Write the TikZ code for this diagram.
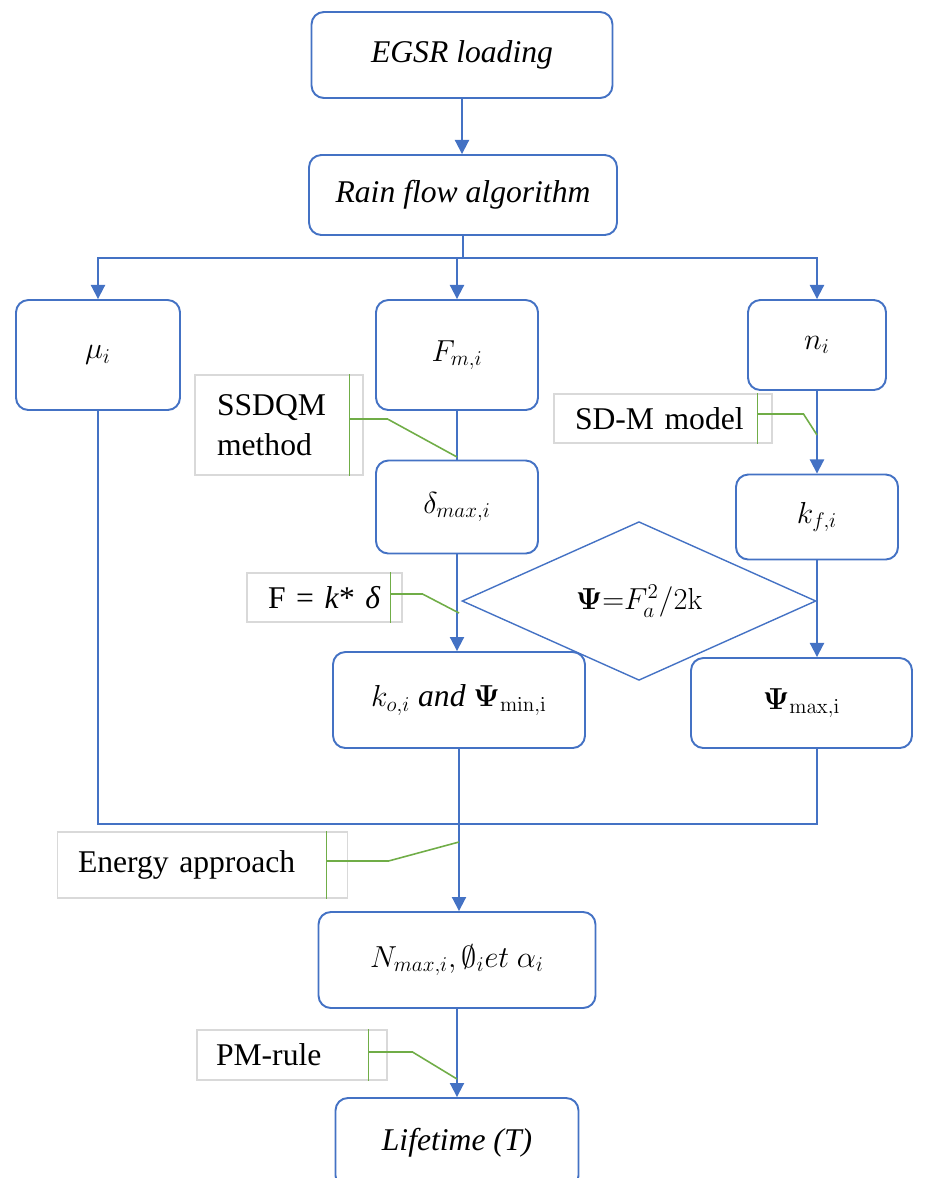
\documentclass[tikz,border=0pt]{standalone}
\usepackage[no-math]{fontspec}
\setmainfont{Liberation Serif}
\usetikzlibrary{shapes.geometric,arrows.meta}
\definecolor{flowblue}{RGB}{68,114,196}
\definecolor{notegreen}{RGB}{112,173,71}
\definecolor{notegray}{RGB}{217,217,217}

\begin{document}
\begin{tikzpicture}[x=0.02cm,y=-0.02cm,
  font=\fontsize{18}{23}\selectfont,
  box/.style={draw=flowblue,line width=1.1pt,rounded corners=7pt,align=center,font=\fontsize{18}{23}\selectfont\itshape},
  link/.style={flowblue,line width=1.1pt},
  flow/.style={link,-{Triangle[length=8pt,width=8pt]}},
  note/.style={draw=notegray,line width=0.6pt,align=left},
  callout/.style={notegreen,line width=0.9pt}]
\useasboundingbox (0,0) rectangle (933,1178);

\node[box,minimum width=6.02cm,minimum height=1.72cm](egsr) at (462,55) {EGSR loading};
\node[box,minimum width=6.16cm,minimum height=1.6cm](rain) at (463,195) {Rain flow algorithm};
\node[box,minimum width=3.28cm,minimum height=2.2cm](mu) at (98,355) {$\mu_i$};
\node[box,minimum width=3.24cm,minimum height=2.2cm](fm) at (457,355) {$F_{m,i}$};
\node[box,minimum width=2.76cm,minimum height=1.8cm](ni) at (817,345) {$n_i$};
\node[box,minimum width=3.24cm,minimum height=1.86cm](delta) at (457,507) {$\delta_{max,i}$};
\node[box,minimum width=3.24cm,minimum height=1.7cm](kf) at (817,517) {$k_{f,i}$};
\node[diamond,draw=flowblue,line width=0.8pt,inner sep=0pt,minimum width=7.08cm,minimum height=2.26cm](psi) at (639,601) {$\mathbf{\Psi}{=}F_a^2/2\mathrm{k}$};
\node[box,minimum width=5.04cm,minimum height=1.92cm](ko) at (459,700) {$k_{o,i}$ and $\mathbf{\Psi}_{\mathrm{min,i}}$};
\node[box,minimum width=4.42cm,minimum height=1.8cm](psimax) at (801.5,703) {$\mathbf{\Psi}_{\mathrm{max,i}}$};
\node[box,minimum width=5.54cm,minimum height=1.92cm](nmax) at (457,960) {$N_{max,i},\emptyset_i et\ \alpha_i$};
\node[box,minimum width=4.86cm,minimum height=1.8cm](life) at (457,1143) {Lifetime (T)};

\node[note,minimum height=2cm,inner xsep=0.44cm,text width=2.48cm](ssdqm) at (279,425) {\mbox{SSDQM}\\\mbox{method}};
\node[note,minimum height=0.98cm,inner xsep=0.42cm,text width=3.52cm](sdm) at (663,418.5) {\mbox{SD-M model}};
\node[note,minimum height=0.98cm,inner xsep=0.42cm,text width=2.26cm](hooke) at (324.5,597.5) {\mbox{F = \textit{k}* \textit{δ}}};
\node[note,minimum height=1.32cm,inner xsep=0.42cm,text width=4.98cm](energy) at (202.5,865) {\mbox{Energy approach}};
\node[note,minimum height=1cm,inner xsep=0.38cm,text width=3.04cm](pm) at (292,1055) {\mbox{PM-rule}};

\coordinate (split) at (463,258);
\coordinate (merge) at (459,824);
\coordinate (ssdqm tip) at (457,457);
\coordinate (sdm tip) at (817,435);
\coordinate (hooke tip) at (459,613);
\coordinate (energy tip) at (459,842);
\coordinate (pm tip) at (457,1079);

\draw[flow] (egsr.south) -- (egsr.south |- rain.north);
\draw[link] (rain.south) -- (split);
\draw[flow] (split) -| (mu.north);
\draw[flow] (split) -| (fm.north);
\draw[flow] (split) -| (ni.north);
\draw[link] (fm) -- (delta);
\draw[flow] (ni) -- (kf);
\draw[flow] (delta.south) -- (delta.south |- ko.north);
\draw[flow] (kf.south) -- (kf.south |- psimax.north);
\draw[link] (mu.south) |- (merge) -| (psimax.south -| kf.south);
\draw[flow] (ko.south) -- (ko.south |- nmax.north);
\draw[flow] (nmax.south) -- (nmax.south |- life.north);

\draw[callout] ([xshift=-0.28cm]ssdqm.north east) -- ([xshift=-0.28cm]ssdqm.south east);
\draw[callout] ([xshift=-0.28cm,yshift=0.12cm]ssdqm.east) -- ++(38,0) -- (ssdqm tip);
\draw[callout] ([xshift=-0.3cm]sdm.north east) -- ([xshift=-0.3cm]sdm.south east);
\draw[callout] ([xshift=-0.3cm,yshift=0.09cm]sdm.east) -- ++(46,0) -- (sdm tip);
\draw[callout] ([xshift=-0.24cm]hooke.north east) -- ([xshift=-0.24cm]hooke.south east);
\draw[callout] ([xshift=-0.24cm,yshift=0.07cm]hooke.east) -- ++(32,0) -- (hooke tip);
\draw[callout] ([xshift=-0.44cm]energy.north east) -- ([xshift=-0.44cm]energy.south east);
\draw[callout] ([xshift=-0.44cm,yshift=0.08cm]energy.east) -- ++(62,0) -- (energy tip);
\draw[callout] ([xshift=-0.38cm]pm.north east) -- ([xshift=-0.38cm]pm.south east);
\draw[callout] ([xshift=-0.38cm,yshift=0.06cm]pm.east) -- ++(44,0) -- (pm tip);
\end{tikzpicture}
\end{document}
